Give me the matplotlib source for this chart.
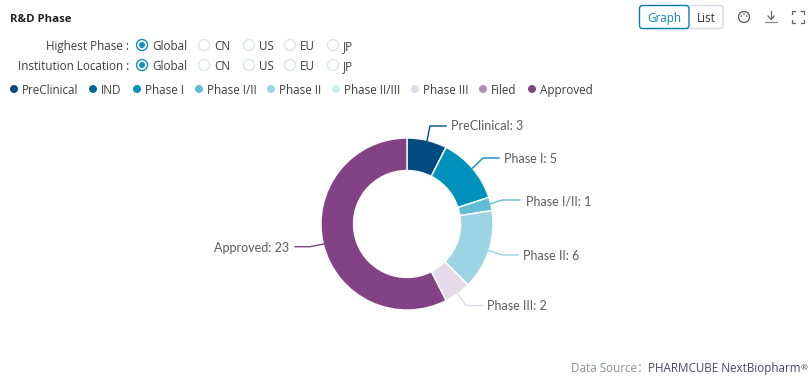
import numpy as np
import matplotlib
matplotlib.use("Agg")
import matplotlib.pyplot as plt
from matplotlib.patches import Circle, FancyBboxPatch

phases = ["PreClinical", "IND", "Phase I", "Phase I/II", "Phase II", "Phase II/III", "Phase III", "Filed", "Approved"]
counts = [3, 0, 5, 1, 6, 0, 2, 0, 23]
colors = ["#004b7f", "#006a9c", "#0092bd", "#63bcd6", "#9bd4e5", "#cde9f2", "#e6d9e9", "#b48ab8", "#834285"]
regions = ["Global", "CN", "US", "EU", "JP"]
filters = ["Highest Phase :", "Institution Location :"]

UI_FONT = "Open Sans"
LABEL_FONT = "Lato"
TEXT = "#3d3d3d"

fig = plt.figure(figsize=(8.11, 3.82), dpi=100)
ax = fig.add_axes([0, 0, 1, 1])
ax.set_xlim(0, 811)
ax.set_ylim(0, 382)
ax.axis("off")


def Y(y):
    # picture coordinates have y going down
    return 382 - y


def label(x, y, s, ha="left", size=8.4, color=TEXT, font=UI_FONT, **kw):
    # y is the middle of the capitals, baseline sits a bit under it
    ax.text(x, Y(y + 4.4), s, ha=ha, va="baseline", fontsize=size, color=color, family=font, **kw)


# header
label(10, 18, "R&D Phase", size=8.2, color="#222222", fontweight="bold")

ax.add_patch(FancyBboxPatch((642, Y(28.5)), 81, 23, boxstyle="round,pad=0,rounding_size=3",
                            fc="white", ec="#d5dbe3", lw=1))
ax.add_patch(FancyBboxPatch((639.5, Y(28.5)), 49.5, 23, boxstyle="round,pad=0,rounding_size=3",
                            fc="white", ec="#0f7ca8", lw=1, zorder=3))
label(664, 17.5, "Graph", ha="center", color="#1183ad", zorder=4)
label(706.5, 17.5, "List", ha="center", color="#333333")

# palette, download and fullscreen icons
ax.add_patch(Circle((744, Y(17)), 5.5, fc="white", ec="#555555", lw=0.9))
for dx, dy in [(-2.5, -1), (0, -3), (2.5, -1)]:
    ax.add_patch(Circle((744 + dx, Y(17 + dy)), 0.8, fc="#555555", ec="none"))
ax.plot([771, 771], [Y(11), Y(19)], color="#666666", lw=0.9)
ax.plot([768, 771, 774], [Y(16), Y(19.5), Y(16)], color="#666666", lw=0.9)
ax.plot([765, 777], [Y(22), Y(22)], color="#888888", lw=0.9)
for sx in (-1, 1):
    for sy in (-1, 1):
        cx, cy = 798 + sx * 6, 17 + sy * 6
        ax.plot([cx - sx * 3, cx, cx], [Y(cy), Y(cy), Y(cy - sy * 3)], color="#666666", lw=0.9)

# radio rows
radio_x = [142, 204, 249, 290, 333]
for row_y, name in zip([45, 65], filters):
    label(129, row_y + 0.5, name, ha="right")
    for i, (rx, reg) in enumerate(zip(radio_x, regions)):
        if i == 0:
            ax.add_patch(Circle((rx, Y(row_y)), 5.5, fc="white", ec="#0f92bd", lw=1))
            ax.add_patch(Circle((rx, Y(row_y)), 3, fc="#0f92bd", ec="none"))
        else:
            ax.add_patch(Circle((rx, Y(row_y)), 5.5, fc="white", ec="#dfe3ec", lw=1))
        label(rx + 10, row_y + 0.5, reg)

# legend
legend_x = [14, 93, 137, 199, 271, 336, 415, 483, 532]
for lx, name, col in zip(legend_x, phases, colors):
    ax.add_patch(Circle((lx, Y(89)), 4, fc=col, ec="none"))
    label(lx + 8, 89.8, name)

# donut
center = (407, Y(224))
wedges, _ = ax.pie(counts, colors=colors, center=center, radius=86, startangle=90, counterclock=False,
                   wedgeprops=dict(width=32.5, edgecolor="white", linewidth=1), frame=False)
ax.set_xlim(0, 811)
ax.set_ylim(0, 382)
ax.set_aspect("equal")
ax.axis("off")

# leader lines: elbow, line end, text x, text y, alignment for each labelled slice
leaders = {
    "PreClinical": (430, 126, 446, 451, 125.5, "left"),
    "Phase I": (483, 158, 499, 504, 158.5, "left"),
    "Phase I/II": (502, 200, 520, 526, 201, "left"),
    "Phase II": (502, 255, 518, 523, 256, "left"),
    "Phase III": (466, 305.5, 482, 487, 306, "left"),
    "Approved": (310, 246.7, 295, 289, 247.5, "right"),
}
for w, name, n, col in zip(wedges, phases, counts, colors):
    if n == 0:
        continue
    ex, ey, tx, lx, ly, ha = leaders[name]
    mid = np.deg2rad((w.theta1 + w.theta2) / 2)
    sx = center[0] + 86 * np.cos(mid)
    sy = center[1] + 86 * np.sin(mid)
    ax.plot([sx, ex, tx], [sy, Y(ey), Y(ey)], color=col, lw=1, solid_joinstyle="round")
    label(lx, ly, f"{name}: {n}", ha=ha, size=9.0, color="#5c5c5c", font=LABEL_FONT)

# footer
label(649, 368, "Data Source：", ha="right", color="#8a8f99",
      font=[UI_FONT, "Noto Sans CJK SC"])
label(648, 368, "PHARMCUBE NextBiopharm", color="#444a5a")
label(801, 365.5, "®", size=6, color="#444a5a")

fig.savefig("out.png", dpi=100)
